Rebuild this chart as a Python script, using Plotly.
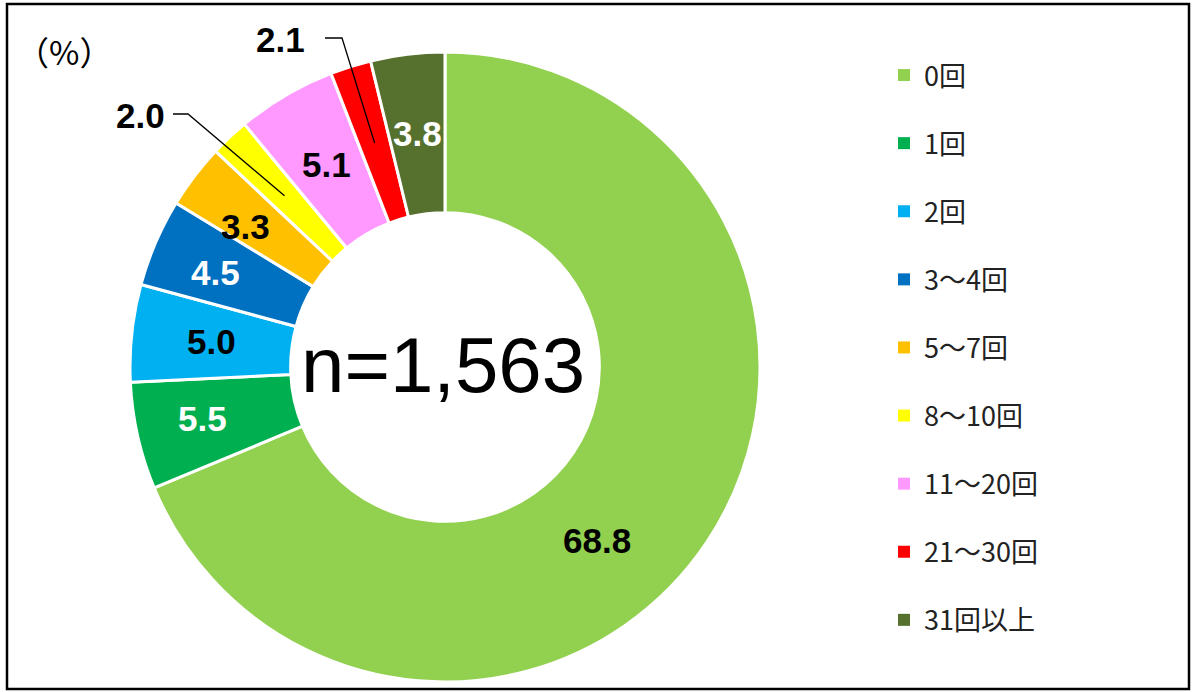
import math
import plotly.graph_objects as go

# ---- data ----
categories = ["0回", "1回", "2回", "3～4回", "5～7回", "8～10回", "11～20回", "21～30回", "31回以上"]
values = [68.8, 5.5, 5.0, 4.5, 3.3, 2.0, 5.1, 2.1, 3.8]
colors = ["#92D050", "#00B050", "#00B0F0", "#0070C0", "#FFC000", "#FFFF00", "#FF99FF", "#FF0000", "#56702D"]
label_colors = ["black", "white", "black", "white", "black", "black", "black", "black", "white"]
outside_labels = ["8～10回", "21～30回"]  # labels drawn outside with leader lines
n_text = "n=1,563"
unit_text = "（%）"

W, H = 1192, 692

def px(x):
    return x / W

def py(y):
    return 1 - y / H

# pie geometry (pixels)
PX0, PX1, PY0, PY1 = 130, 760, 52, 682
CX, CY = (PX0 + PX1) / 2, (PY0 + PY1) / 2
R = min(PX1 - PX0, PY1 - PY0) / 2
HOLE = 0.49
LABEL_FONT = "Liberation Sans, Arial"

fig = go.Figure()
fig.add_trace(go.Pie(
    labels=categories,
    values=values,
    sort=False,
    direction="clockwise",
    rotation=0,
    hole=HOLE,
    marker=dict(colors=colors, line=dict(color="white", width=3)),
    textinfo="none",
    domain=dict(x=[px(PX0), px(PX1)], y=[py(PY1), py(PY0)]),
    showlegend=False,
    hoverinfo="label+value",
))

# legend entries (one per category)
for c, col in zip(categories, colors):
    fig.add_trace(go.Scatter(
        x=[None], y=[None], mode="markers", name=c, legendgroup=c,
        marker=dict(symbol="square", size=12, color=col),
        showlegend=True,
    ))

# value labels placed from each slice's mid-angle
total = sum(values)
shapes = []
annotations = []
label_pos = {"8～10回": (140, 116, 173, 188), "21～30回": (280, 40, 325, 342)}
label_nudge = {"0回": (-43, 43), "1回": (-14, 0), "3～4回": (-14, -2), "5～7回": (-13, 2)}
cum = 0
rm = R * (1 + HOLE) / 2
for c, v, lc in zip(categories, values, label_colors):
    mid = (cum + v / 2) / total * 2 * math.pi
    cum += v
    tx, ty = CX + rm * math.sin(mid), CY - rm * math.cos(mid)
    if c in outside_labels:
        lx, ly, l0, l1 = label_pos[c]
        annotations.append(dict(
            x=px(lx), y=py(ly), xref="paper", yref="paper", showarrow=False,
            xanchor="center", yanchor="middle",
            text=f"<b>{v:.1f}</b>",
            font=dict(family=LABEL_FONT, size=35, color="black"),
        ))
        shapes.append(dict(
            type="path", xref="paper", yref="paper",
            path=f"M {px(l0)},{py(ly - 2)} L {px(l1)},{py(ly - 2)} L {px(tx)},{py(ty)}",
            line=dict(color="black", width=1.3),
        ))
    else:
        dx, dy = label_nudge.get(c, (0, 0))
        annotations.append(dict(
            x=px(tx + dx), y=py(ty + dy), xref="paper", yref="paper", showarrow=False,
            xanchor="center", yanchor="middle",
            text=f"<b>{v:.1f}</b>",
            font=dict(family=LABEL_FONT, size=35, color=lc),
        ))

annotations.append(dict(
    x=px(443), y=py(365), xref="paper", yref="paper", showarrow=False,
    xanchor="center", yanchor="middle",
    text=n_text, font=dict(family="Liberation Sans, Arial", size=78, color="black"),
))
annotations.append(dict(
    x=px(64), y=py(51), xref="paper", yref="paper", showarrow=False,
    xanchor="center", yanchor="middle",
    text=unit_text, font=dict(family="Noto Sans CJK JP", size=33, color="black"),
))

# frame
shapes.append(dict(type="rect", xref="paper", yref="paper",
                   x0=px(7), x1=px(1189), y0=py(689), y1=py(4),
                   line=dict(color="black", width=2.5)))

fig.update_layout(
    width=W, height=H,
    margin=dict(l=0, r=0, t=0, b=0),
    paper_bgcolor="white", plot_bgcolor="white",
    xaxis=dict(visible=False), yaxis=dict(visible=False),
    legend=dict(
        x=px(884), y=py(51), xanchor="left", yanchor="top",
        font=dict(family="Noto Sans CJK JP", size=27, color="#222222"),
        tracegroupgap=30, bgcolor="rgba(0,0,0,0)",
    ),
    shapes=shapes,
    annotations=annotations,
)

fig.write_html(
    "out.html",
    config={"displayModeBar": False},
    post_script="document.body.style.margin='0';document.body.style.overflow='hidden';",
)
